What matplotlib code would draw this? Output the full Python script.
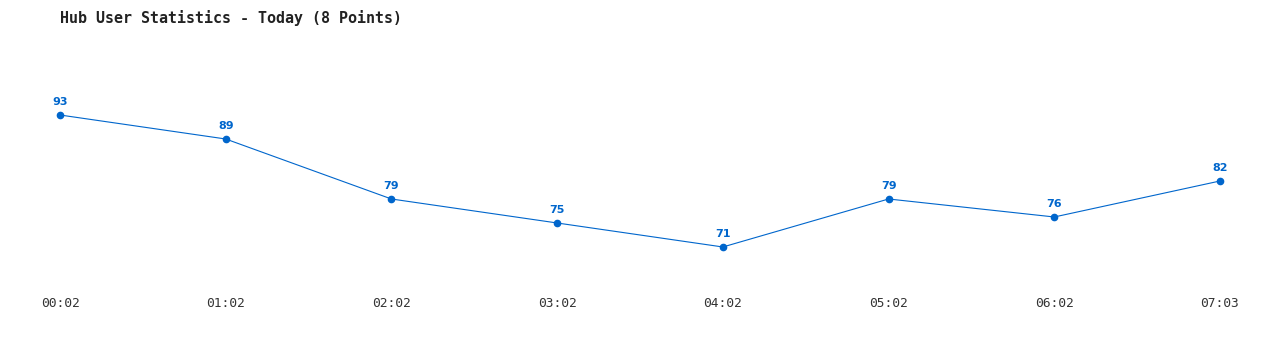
import matplotlib
matplotlib.use("Agg")
import matplotlib.pyplot as plt

times = ["00:02", "01:02", "02:02", "03:02", "04:02", "05:02", "06:02", "07:03"]
users = [93, 89, 79, 75, 71, 79, 76, 82]

blue = "#0066cc"

fig = plt.figure(figsize=(12.8, 3.5), dpi=100)
ax = fig.add_axes([60 / 1280, 60 / 350, 1160 / 1280, 250 / 350])

x = list(range(len(times)))
ax.plot(x, users, color=blue, linewidth=0.8, marker="o", markersize=4.5, clip_on=False)
for xi, v in zip(x, users):
    ax.annotate(str(v), (xi, v), xytext=(0, 6), textcoords="offset points",
                ha="center", va="bottom", color=blue, fontsize=8,
                fontweight="bold", family="DejaVu Sans")

ax.set_xlim(0, len(times) - 1)
ax.set_ylim(63.83, 105.5)
ax.set_xticks(x)
ax.set_xticklabels(times, family="DejaVu Sans Mono", fontsize=9.3, color="#333333")
ax.tick_params(axis="x", length=0, pad=5)
ax.set_yticks([])
for s in ax.spines.values():
    s.set_visible(False)
ax.patch.set_visible(False)

fig.text(60 / 1280, 1 - 18 / 350, "Hub User Statistics - Today (8 Points)",
         family="DejaVu Sans Mono", fontsize=10.8, fontweight="bold",
         color="#222222", va="center", ha="left")

fig.savefig("out.png", dpi=100)
